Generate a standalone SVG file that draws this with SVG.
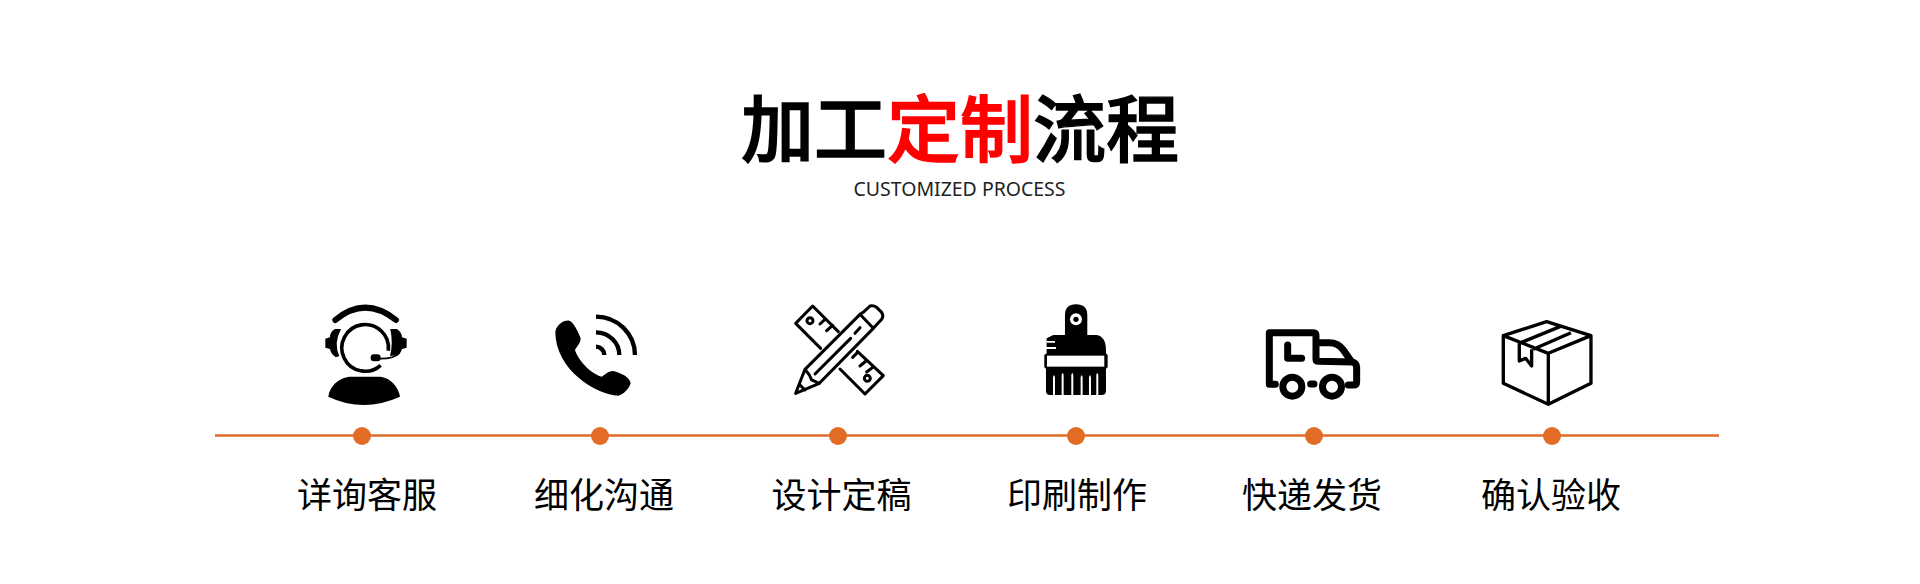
<svg xmlns="http://www.w3.org/2000/svg" width="1920" height="584" viewBox="0 0 1920 584">
<style>
.cjk{font-family:"Noto Sans CJK SC","Noto Sans",sans-serif}
.t{font-size:73px;font-weight:500;fill:#000;stroke:#000;stroke-width:1.400px}
.r{fill:#f00;stroke:#f00}
.sub{font-family:"Noto Sans","Open Sans",sans-serif;font-size:19.5px;font-weight:400;fill:#222}
.lb{font-size:35px;fill:#000;text-anchor:middle}
.dot{fill:#e26c26}
.s{fill:none;stroke:#000;stroke-linejoin:round}
.f{fill:#000}
.w{fill:#fff}
</style>
<rect width="1920" height="584" fill="#fff"/>
<g id="title">
<text class="cjk t" x="741" y="155.500">加工<tspan class="r">定制</tspan>流程</text>
<text class="sub" x="853.500" y="195.500" textLength="212" lengthAdjust="spacingAndGlyphs">CUSTOMIZED PROCESS</text>
</g>
<g id="connectors">
<line x1="215" y1="435.500" x2="1719" y2="435.500" stroke="#e26c26" stroke-width="2.500"/>
</g>
<g id="step1">
<g transform="translate(280 280) scale(.3333)">
<path class="s" d="M166,120Q255,46 348,120" stroke-width="18" stroke-linecap="round"/>
<path class="s" d="M325,212A70,70 0 1 0 302,256" stroke-width="11"/>
<path class="f" d="M183,147L165,147Q150,155 150,172L136,176L136,203L150,207Q152,222 168,232L178,228Q160,190 183,147Z"/>
<path class="f" d="M331,147L350,147Q365,155 366,172L380,176L380,203L366,207Q362,222 352,226L330,228Q340,190 331,147Z"/>
<rect class="f" x="272" y="223" width="30" height="21" rx="10"/>
<path class="s" d="M300,236Q345,236 358,218" stroke-width="5"/>
<path class="f" d="M145,350C150,312 185,290 215,290L295,290C330,290 355,320 360,350Q250,400 145,350Z"/>
</g>
<circle class="dot" cx="362" cy="436" r="9"/>
<text class="cjk lb" x="367" y="508">详询客服</text>
</g>
<g id="step2">
<g transform="translate(280 280) scale(.3333)">
<path class="f" d="M826,155C830,135 850,120 868,122C880,125 895,155 902,175C902,190 890,200 885,210C895,240 930,280 965,290C975,285 985,272 1000,273C1020,278 1050,290 1052,310C1048,325 1030,345 1015,347C950,345 826,270 826,155Z"/>
<path class="s" d="M948,110A117,115 0 0 1 1065,225M948,157A70,68 0 0 1 1018,225M948,200A25,25 0 0 1 973,225" stroke-width="13"/>
</g>
<circle class="dot" cx="600" cy="436" r="9"/>
<text class="cjk lb" x="604" y="508">细化沟通</text>
</g>
<g id="step3">
<g transform="translate(760 280) scale(.3333)">
<g class="s" stroke-width="9" stroke-linecap="round">
<path d="M182,205L107,130L158,78L235,155M180,132L195,118M200,152L218,136"/>
<circle cx="150" cy="122" r="9"/>
<path d="M240,267L315,342L370,287L292,214M278,232L292,218M300,258L318,243M320,276L338,262"/>
<circle cx="322" cy="295" r="9"/>
<path d="M107,340L135,268L300,103L340,145L178,310ZM135,268Q150,285 155,300L178,310M120,315L135,330M165,282L272,175M285,160L300,143"/>
<path d="M312,95L330,78Q340,75 350,82L365,97Q372,108 365,118L340,145M312,95L300,103"/>
</g>
</g>
<circle class="dot" cx="838" cy="436" r="9"/>
<text class="cjk lb" x="841.500" y="508">设计定稿</text>
</g>
<g id="step4">
<g transform="translate(760 280) scale(.3333)">
<path class="f" d="M915,165L915,105Q915,73 948,73Q982,73 982,105L982,165L1010,165Q1038,170 1038,210L1038,220L1043,225L1043,262L1038,266L1038,332Q1038,345 1025,345L871,345Q858,345 858,332L858,266L853,262L853,225L860,220L860,175L880,165Z"/>
<rect class="w" x="861" y="227" width="172" height="33"/>
<circle class="w" cx="948" cy="118" r="18"/>
<circle class="f" cx="948" cy="118" r="8"/>
<path class="w" d="M860,183H885V188H860ZM858,201H888V207H858ZM879,292Q882,280 885,292V345H879ZM905,285Q908,273 911,285V345H905ZM934,285Q937,273 940,285V345H934ZM962,292Q965,280 968,292V345H962ZM987,292Q990,280 993,292V345H987ZM1009,285Q1012,273 1015,285V345H1009Z"/>
</g>
<circle class="dot" cx="1076" cy="436" r="9"/>
<text class="cjk lb" x="1077" y="508">印刷制作</text>
</g>
<g id="step5">
<g transform="translate(1240 290) scale(.3333)">
<path class="s" d="M106,283L88,283L88,128L220,128Q228,128 228,136L228,208Q228,214 236,214L338,216Q350,220 350,232L350,275Q350,285 340,285L325,285M228,158L268,158Q295,158 310,180L335,215M143,165L143,205L185,205M212,282L222,282" stroke-width="21" stroke-linecap="round"/>
<circle class="s" cx="157" cy="290" r="28.500" stroke-width="21"/>
<circle class="s" cx="276" cy="290" r="28.500" stroke-width="21"/>
</g>
<circle class="dot" cx="1314" cy="436" r="9"/>
<text class="cjk lb" x="1312" y="508">快递发货</text>
</g>
<g id="step6">
<g transform="translate(1240 290) scale(.3333)">
<path class="s" d="M920,95L790,137L790,280L925,343L1053,280L1053,137ZM790,137L925,190L1053,137M925,190L925,343M845,157L960,110M880,178L993,128M838,160L838,213L857,205L875,228L875,178" stroke-width="10"/>
</g>
<circle class="dot" cx="1552" cy="436" r="9"/>
<text class="cjk lb" x="1551" y="508">确认验收</text>
</g>
</svg>
